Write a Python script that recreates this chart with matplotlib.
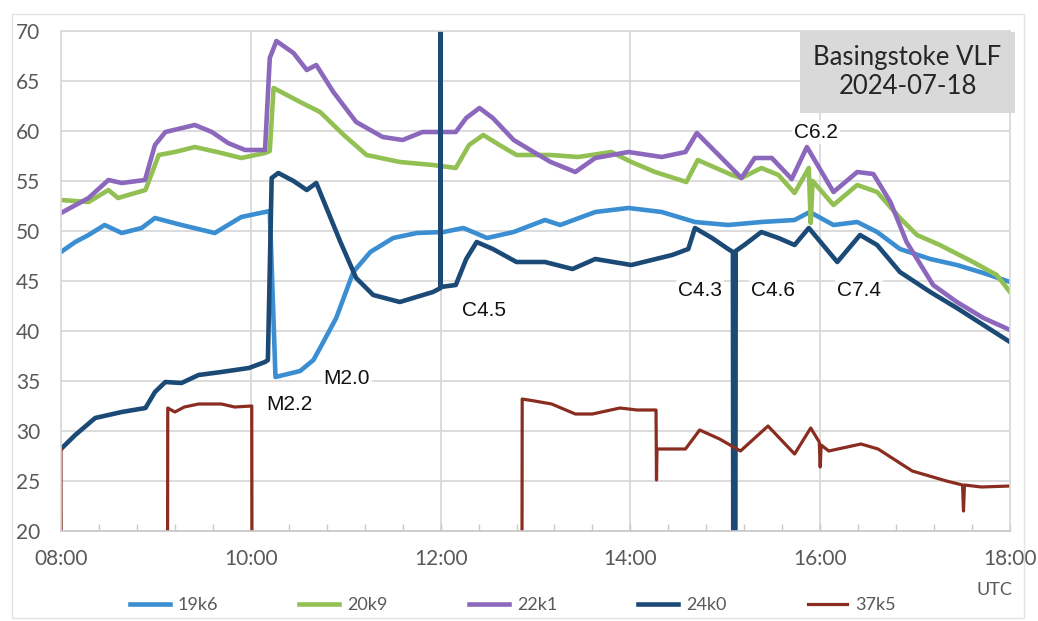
import matplotlib
matplotlib.use("Agg")
import matplotlib.pyplot as plt
from matplotlib.patches import Rectangle
from matplotlib.ticker import MultipleLocator

# ---------------- data (hours UTC, signal level) ----------------
t19 = [8.0, 8.15, 8.29, 8.46, 8.64, 8.85, 8.99, 9.27, 9.62, 9.9, 10.15, 10.2, 10.26,
       10.52, 10.66, 10.73, 10.9, 11.08, 11.26, 11.5, 11.75, 12.03, 12.24, 12.49, 12.77,
       13.1, 13.26, 13.63, 13.98, 14.33, 14.68, 15.03, 15.38, 15.73, 15.89, 16.14, 16.39,
       16.6, 16.84, 17.16, 17.44, 17.72, 18.0]
v19 = [47.9, 48.9, 49.6, 50.6, 49.8, 50.3, 51.3, 50.6, 49.8, 51.4, 51.9, 52.0, 35.4,
       36.0, 37.1, 38.3, 41.3, 45.9, 47.9, 49.3, 49.8, 49.9, 50.3, 49.3, 49.9,
       51.1, 50.6, 51.9, 52.3, 51.9, 50.9, 50.6, 50.9, 51.1, 51.9, 50.6, 50.9,
       49.9, 48.2, 47.2, 46.6, 45.8, 44.9]

t20 = [8.0, 8.29, 8.5, 8.6, 8.89, 9.03, 9.2, 9.41, 9.69, 9.9, 10.15, 10.2, 10.24,
       10.52, 10.73, 10.98, 11.22, 11.57, 11.92, 12.16, 12.3, 12.45, 12.62, 12.8, 13.16,
       13.45, 13.8, 14.01, 14.26, 14.59, 14.71, 15.07, 15.17, 15.38, 15.56, 15.73, 15.88,
       15.9, 15.92, 16.14, 16.39, 16.6, 16.84, 17.02, 17.26, 17.61, 17.86, 18.0]
v20 = [53.1, 52.9, 54.1, 53.3, 54.1, 57.6, 57.9, 58.4, 57.8, 57.3, 57.8, 58.0, 64.3,
       62.9, 61.9, 59.6, 57.6, 56.9, 56.6, 56.3, 58.6, 59.6, 58.6, 57.6, 57.6,
       57.4, 57.9, 56.9, 55.9, 54.9, 57.1, 55.6, 55.3, 56.3, 55.6, 53.8, 56.3,
       50.8, 55.0, 52.6, 54.6, 53.9, 51.3, 49.6, 48.6, 46.9, 45.6, 43.9]

t22 = [8.0, 8.29, 8.5, 8.64, 8.885, 8.99, 9.1, 9.41, 9.59, 9.76, 9.94, 10.15, 10.2,
       10.27, 10.45, 10.59, 10.69, 10.87, 11.11, 11.39, 11.6, 11.81, 12.16, 12.27, 12.41,
       12.55, 12.77, 12.98, 13.16, 13.42, 13.63, 13.98, 14.33, 14.58, 14.7, 14.93, 15.17,
       15.31, 15.49, 15.7, 15.86, 16.14, 16.39, 16.56, 16.74, 16.91, 17.19, 17.44, 17.72,
       18.0]
v22 = [51.8, 53.3, 55.1, 54.8, 55.1, 58.6, 59.9, 60.6, 59.9, 58.8, 58.1, 58.1, 67.3,
       69.0, 67.8, 66.1, 66.6, 63.9, 60.9, 59.4, 59.1, 59.9, 59.9, 61.3, 62.3,
       61.3, 59.1, 57.9, 56.9, 55.9, 57.3, 57.9, 57.4, 57.9, 59.8, 57.6, 55.3,
       57.3, 57.3, 55.2, 58.4, 53.9, 55.9, 55.7, 52.9, 48.9, 44.6, 42.9, 41.3,
       40.1]

t24 = [8.0, 8.15, 8.36, 8.64, 8.89, 8.99, 9.1, 9.27, 9.45, 9.69, 9.98, 10.15, 10.18,
       10.22, 10.29, 10.45, 10.59, 10.69, 10.94, 11.11, 11.29, 11.57, 11.92, 12.0, 12.0,
       12.0, 12.16, 12.27, 12.38, 12.55, 12.8, 13.1, 13.39, 13.63, 14.01, 14.44, 14.61,
       14.68, 14.86, 15.03, 15.08, 15.085, 15.105, 15.11, 15.2, 15.38, 15.56, 15.73, 15.88,
       16.18, 16.42, 16.6, 16.84, 17.16, 17.44, 17.72, 18.0]
v24 = [28.2, 29.6, 31.3, 31.9, 32.3, 33.9, 34.9, 34.8, 35.6, 35.9, 36.3, 36.9, 37.1,
       55.3, 55.8, 55.0, 54.1, 54.8, 49.0, 45.3, 43.6, 42.9, 43.9, 44.3, 80.0,
       44.4, 44.6, 47.2, 48.9, 48.2, 46.9, 46.9, 46.2, 47.2, 46.6, 47.6, 48.2,
       50.3, 49.3, 48.2, 47.9, 10.0, 10.0, 48.0, 48.6, 49.9, 49.3, 48.6, 50.3,
       46.9, 49.6, 48.6, 45.9, 43.9, 42.3, 40.6, 38.9]

t37 = [8.0, 8.003, 9.12, 9.125, 9.2, 9.3, 9.45, 9.69, 9.83, 10.01, 10.015,
       12.855, 12.86, 12.99, 13.17, 13.42, 13.6, 13.89, 14.07, 14.27, 14.275,
       14.28, 14.58, 14.73, 14.94, 15.16, 15.45, 15.73, 15.9, 15.99, 16.0,
       16.01, 16.09, 16.43, 16.61, 16.97, 17.33, 17.5, 17.51, 17.52, 17.7, 18.0]
v37 = [28.2, 0.0, 0.0, 32.3, 31.9, 32.4, 32.7, 32.7, 32.4, 32.5, 0.0,
       0.0, 33.2, 33.0, 32.7, 31.7, 31.7, 32.3, 32.1, 32.1, 25.1,
       28.2, 28.2, 30.1, 29.2, 28.0, 30.5, 27.7, 30.3, 28.9, 26.4,
       28.6, 28.0, 28.7, 28.2, 26.0, 25.0, 24.6, 22.0, 24.6, 24.4, 24.5]

series_names = ["19k6", "20k9", "22k1", "24k0", "37k5"]
series_colors = ["#3b8ed2", "#92c052", "#8c68bc", "#1b4a77", "#8a2c20"]

x_ticks = [8, 10, 12, 14, 16, 18]
x_labels = ["08:00", "10:00", "12:00", "14:00", "16:00", "18:00"]
y_ticks = [20, 25, 30, 35, 40, 45, 50, 55, 60, 65, 70]

flares = ["M2.2", "M2.0", "C4.5", "C4.3", "C4.6", "C7.4", "C6.2"]
flare_t = [10.41, 11.01, 12.46, 14.73, 15.50, 16.41, 15.96]
flare_v = [32.7, 35.3, 42.1, 44.1, 44.1, 44.1, 59.9]

title_lines = "Basingstoke VLF\n2024-07-18"

# ---------------- figure ----------------
W, H = 1038, 621
fig = plt.figure(figsize=(W / 100, H / 100), dpi=100)
fig.patch.set_facecolor("white")

# faint chart border
fig.patches.append(Rectangle((12 / W, 1 - 618 / H), (1024 - 12) / W, (618 - 14) / H,
                             transform=fig.transFigure, fill=False,
                             edgecolor="#e3e3e3", lw=1.0))

ax = fig.add_axes([61 / W, 1 - 531 / H, (1010 - 61) / W, 500 / H])

grid_c = "#d9d9d9"
for sp in ax.spines.values():
    sp.set_color(grid_c)
    sp.set_linewidth(1.2)
ax.spines["bottom"].set_color("#c8c8c8")

ax.set_xlim(8, 18)
ax.set_ylim(20, 70)
ax.set_yticks(y_ticks)
ax.set_xticks(x_ticks)
ax.set_xticklabels(x_labels)
ax.xaxis.set_minor_locator(MultipleLocator(0.4))
ax.grid(True, which="major", color=grid_c, lw=1.3)
ax.set_axisbelow(True)

tick_family = ["Lato", "DejaVu Sans"]
for lab in ax.get_xticklabels() + ax.get_yticklabels():
    lab.set_fontfamily(tick_family)
    lab.set_fontsize(15)
    lab.set_color("#595959")
ax.tick_params(axis="y", length=0, pad=15)
ax.tick_params(axis="x", which="both", direction="in", length=5, color="#c8c8c8",
               pad=13, width=1.0)

data = [(t19, v19), (t20, v20), (t22, v22), (t24, v24), (t37, v37)]
lws = [3.3, 3.3, 3.3, 3.3, 2.3]
handles = []
for (tt, vv), name, col, lw in zip(data, series_names, series_colors, lws):
    h, = ax.plot(tt, vv, color=col, lw=lw, label=name, solid_joinstyle="round",
                 clip_on=True)
    handles.append(h)

for txt, tx, vy in zip(flares, flare_t, flare_v):
    ax.text(tx, vy, txt, ha="center", va="center", fontsize=15,
            family=["Liberation Sans", "DejaVu Sans"], color="#111111",
            bbox=dict(boxstyle="square,pad=0.1", fc="white", ec="none", alpha=0.85),
            zorder=5)

# station box
fig.patches.append(Rectangle((800 / W, 1 - 113 / H), (1015 - 800) / W, (113 - 32) / H,
                             transform=fig.transFigure, facecolor="#d9d9d9",
                             edgecolor="none", zorder=3))
fig.text(907.5 / W, 1 - 72 / H, title_lines, ha="center", va="center",
         fontsize=18.5, family=["Lato", "DejaVu Sans"], color="#262626",
         linespacing=1.25, zorder=4)

fig.text(1012 / W, 1 - 590 / H, "UTC", ha="right", va="center", fontsize=13,
         family=["Lato", "DejaVu Sans"], color="#595959")

leg = fig.legend(handles=handles, labels=series_names, loc="center",
                 bbox_to_anchor=(513 / W, 1 - 605 / H), ncol=5, frameon=False,
                 handlelength=2.2, handletextpad=0.45, columnspacing=4.5,
                 prop=dict(family=["Lato", "DejaVu Sans"], size=13))
for t in leg.get_texts():
    t.set_color("#595959")

fig.savefig("out.png", dpi=100, facecolor="white")
